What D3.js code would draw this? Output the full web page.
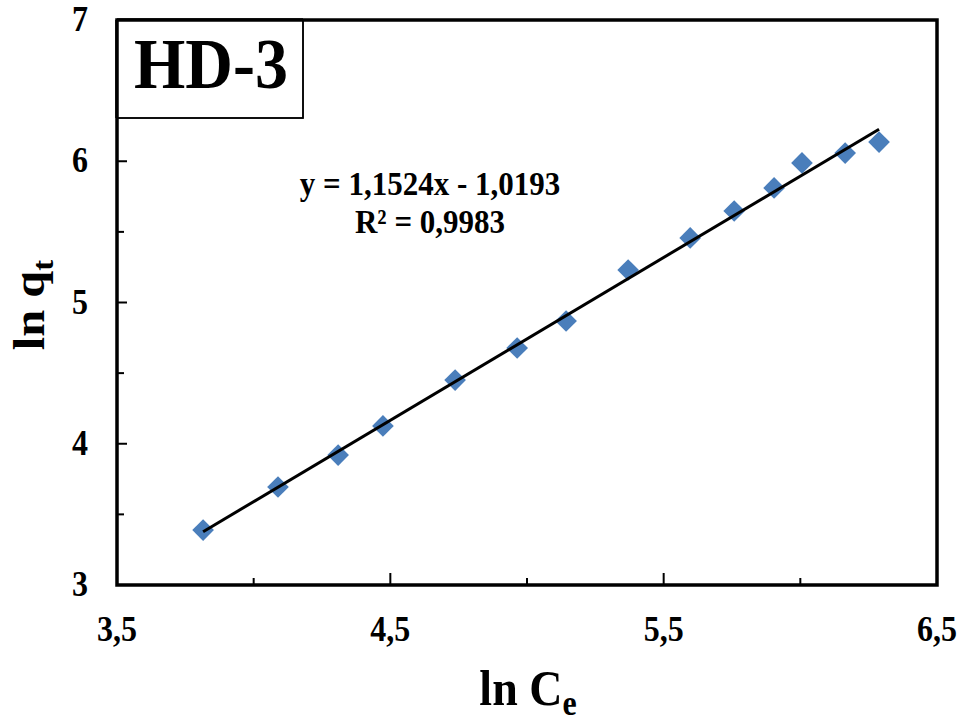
<!DOCTYPE html>
<html>
<head>
<meta charset="utf-8">
<script src="https://cdn.jsdelivr.net/npm/d3@7"></script>
<style>
  body{margin:0;background:#fff;}
  text{font-family:"Liberation Serif","Times New Roman",serif;font-weight:bold;fill:#000;}
</style>
</head>
<body>
<svg></svg>
<script>
// ln Ce vs ln qt, HD-3
var lnCe = [3.815,4.089,4.309,4.473,4.737,4.964,5.143,5.370,5.597,5.758,5.904,6.006,6.164,6.288];
var lnQt = [3.389,3.694,3.920,4.126,4.451,4.678,4.869,5.230,5.457,5.648,5.811,5.988,6.058,6.136];
var slope = 1.1524, intercept = -1.0193;
var xTicks = [3.5,4.5,5.5,6.5];
var xMinor = [4,5,6];
var yTicks = [3,4,5,6,7];
var yMinor = [3.5,4.5,5.5,6.5];
var eqText = "y = 1,1524x - 1,0193";
var r2Text = "R² = 0,9983";
var title = "HD-3";

var width = 963, height = 722;
var margins = {left:117, right:26, top:20, bot:137};
var sy = 1.1; // text in the picture is a bit taller than wide

var svg = d3.select("svg").attr("width",width).attr("height",height);

var xScale = d3.scaleLinear().domain([3.5,6.5]).range([margins.left,width-margins.right]);
var yScale = d3.scaleLinear().domain([3,7]).range([height-margins.bot,margins.top]);
var fmt = function(d){return String(d).replace(".",",");};

function label(x,y,txt,size,anchor){
  return svg.append("text")
    .attr("transform","translate("+x+","+y+") scale(1,"+sy+")")
    .attr("text-anchor",anchor||"middle")
    .style("font-size",size+"px")
    .text(txt);
}

// ticks inside the frame
var x0 = xScale.range()[0], x1 = xScale.range()[1];
var y0 = yScale.range()[0], y1 = yScale.range()[1];
var ticks = svg.append("g").attr("stroke","#000").attr("stroke-width",2);
xTicks.concat(xMinor).forEach(function(d){
  var len = xTicks.indexOf(d) >= 0 ? 12 : 7;
  ticks.append("line").attr("x1",xScale(d)).attr("x2",xScale(d)).attr("y1",y0).attr("y2",y0-len);
});
yTicks.concat(yMinor).forEach(function(d){
  var len = yTicks.indexOf(d) >= 0 ? 10 : 7;
  ticks.append("line").attr("x1",x0).attr("x2",x0+len).attr("y1",yScale(d)).attr("y2",yScale(d));
});

// frame
svg.append("rect").attr("x",x0).attr("y",y1).attr("width",x1-x0).attr("height",y0-y1)
   .attr("fill","none").attr("stroke","#000").attr("stroke-width",3.5);

// tick labels
xTicks.forEach(function(d){ label(xScale(d),641,fmt(d),32); });
yTicks.forEach(function(d){ label(80,yScale(d)+11,fmt(d),32); });

// points
svg.append("g").selectAll("path").data(lnCe).enter().append("path")
   .attr("d",d3.symbol(d3.symbolSquare).size(235))
   .attr("transform",function(d,i){return "translate("+xScale(d)+","+yScale(lnQt[i])+") rotate(45)";})
   .attr("fill","#4a7ebb");

// trend line
var ext = d3.extent(lnCe);
svg.append("line")
   .attr("x1",xScale(ext[0])).attr("y1",yScale(slope*ext[0]+intercept))
   .attr("x2",xScale(ext[1])).attr("y2",yScale(slope*ext[1]+intercept))
   .attr("stroke","#000").attr("stroke-width",3);

// title box
svg.append("rect").attr("x",x0).attr("y",y1).attr("width",186).attr("height",98)
   .attr("fill","#fff").attr("stroke","#000").attr("stroke-width",1.5);
svg.append("rect").attr("x",x0).attr("y",y1).attr("width",186).attr("height",98)
   .attr("fill","none").attr("stroke","#000").attr("stroke-width",1.5);
svg.append("line").attr("x1",x0).attr("x2",x0+186).attr("y1",y1).attr("y2",y1)
   .attr("stroke","#000").attr("stroke-width",3.5);
svg.append("line").attr("x1",x0).attr("x2",x0).attr("y1",y1).attr("y2",y1+98)
   .attr("stroke","#000").attr("stroke-width",3.5);
label(211,88,title,66);

// equation
label(430,195,eqText,31);
label(430,233,r2Text,31);

// axis titles
var xt = label(528,705,"",46);
xt.append("tspan").text("ln C");
xt.append("tspan").attr("dy",9).style("font-size","32px").text("e");

var yt = svg.append("text")
  .attr("transform","translate(44,305) rotate(-90) scale("+sy+",1)")
  .attr("text-anchor","middle").style("font-size","44px");
yt.append("tspan").text("ln q");
yt.append("tspan").attr("dy",9).style("font-size","30px").text("t");
</script>
</body>
</html>
